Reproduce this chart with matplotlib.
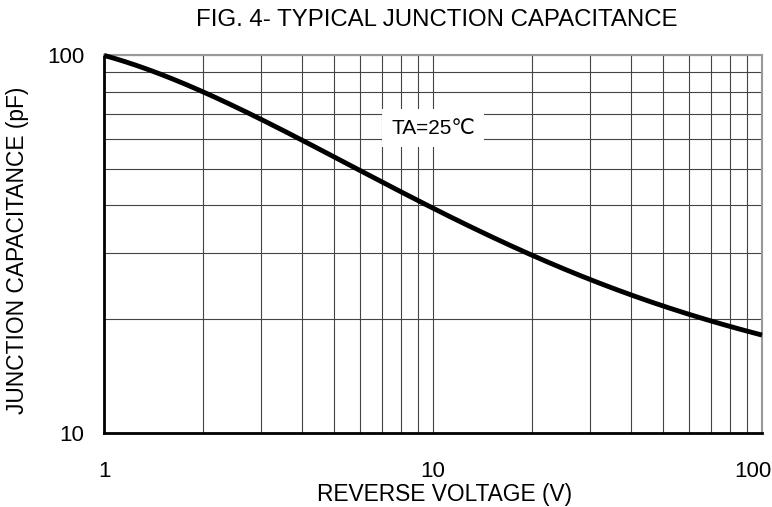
import numpy as np
import matplotlib.pyplot as plt
from matplotlib.ticker import FixedLocator, NullFormatter
from matplotlib.transforms import ScaledTranslation

plt.rcParams['font.family'] = ['Liberation Sans', 'DejaVu Sans']

# --- Curve ---
voltage = [1, 1.43, 1.93, 2.88, 3.89, 5.87, 9.58, 18.8, 28.3, 42.5, 65, 100]
capacitance = [100, 90, 80, 70, 60, 50, 40, 30, 26.2, 22.9, 20, 18.2]

x_ticks = [1, 10, 100]
x_labels = ["1", "10", "100"]
y_ticks = [10, 100]
y_labels = ["10", "100"]

fig = plt.figure(figsize=(7.72, 5.07), dpi=100)
ax = fig.add_axes([104 / 772, 1 - 433 / 507, 658 / 772, 378 / 507])

# smooth curve through the read points (fit in log-log space)
lx = np.log10(voltage)
ly = np.log10(capacitance)
coef = np.polyfit(lx, ly, 4)
xs = np.linspace(lx[0], lx[-1], 300)
ax.plot(10 ** xs, 10 ** np.polyval(coef, xs), color='black', lw=3.5,
        solid_capstyle='butt', zorder=3, clip_on=False)

ax.set_xscale('log')
ax.set_yscale('log')
ax.set_xlim(1, 100)
ax.set_ylim(10, 100)

ax.xaxis.set_major_locator(FixedLocator(x_ticks))
ax.set_xticklabels(x_labels)
ax.yaxis.set_major_locator(FixedLocator(y_ticks))
ax.set_yticklabels(y_labels)
ax.xaxis.set_minor_locator(FixedLocator([a * b for b in (1, 10) for a in range(2, 10)]))
ax.yaxis.set_minor_locator(FixedLocator(list(range(20, 100, 10))))
ax.xaxis.set_minor_formatter(NullFormatter())
ax.yaxis.set_minor_formatter(NullFormatter())
ax.tick_params(which='both', length=0, labelsize=16, pad=14)
ax.tick_params(axis='x', pad=20)

# keep the last x label inside the picture
last = ax.get_xticklabels()[-1]
last.set_transform(last.get_transform() + ScaledTranslation(-0.09, 0, fig.dpi_scale_trans))

ax.grid(True, which='both', color='#444444', lw=0.8)
ax.set_axisbelow(True)

ax.spines['left'].set_linewidth(2)
ax.spines['bottom'].set_linewidth(2)
ax.spines['top'].set_color('#999999')
ax.spines['right'].set_color('#999999')
ax.spines['top'].set_linewidth(1.5)
ax.spines['right'].set_linewidth(1.5)

ax.text(10.0, 64, "TA=25\u2103", fontsize=15, ha='center', va='center',
        bbox=dict(boxstyle='square,pad=0.45', facecolor='white', edgecolor='none'),
        zorder=4)

fig.text(437 / 772, 1 - 20 / 507, "FIG. 4- TYPICAL JUNCTION CAPACITANCE",
         fontsize=17.3, ha='center', va='center')
fig.text(445 / 772, 1 - 494 / 507, "REVERSE VOLTAGE (V)",
         fontsize=16.4, ha='center', va='center')
fig.text(18 / 772, 1 - 250 / 507, "JUNCTION CAPACITANCE (pF)",
         fontsize=16.4, ha='center', va='center', rotation=90)

fig.savefig("out.png", dpi=100)
